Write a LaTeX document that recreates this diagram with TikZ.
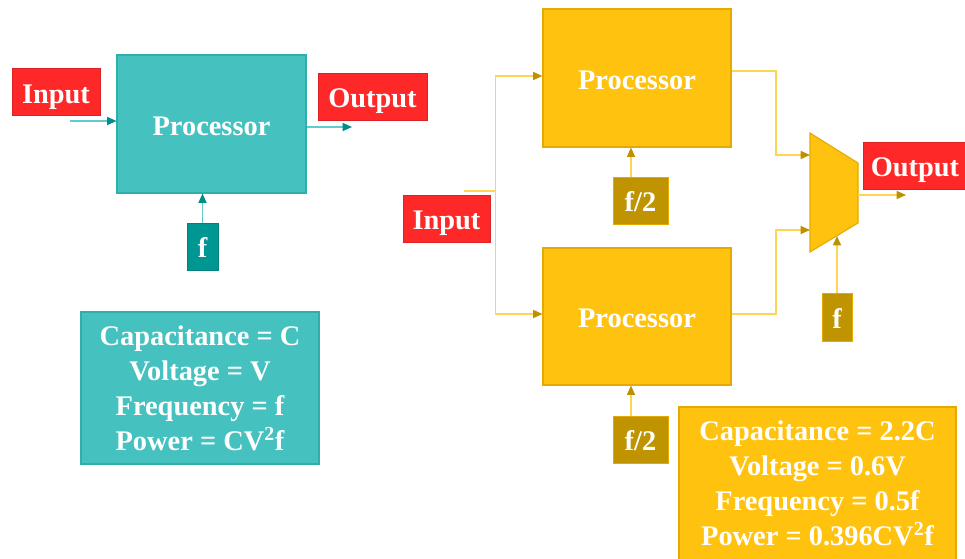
\documentclass[tikz,border=0pt]{standalone}
\usepackage{fontspec}
\setmainfont{Liberation Serif}
\usetikzlibrary{arrows.meta}
\definecolor{tealbox}{RGB}{69,193,192}
\definecolor{tealedge}{RGB}{45,175,172}
\definecolor{tealdark}{RGB}{0,150,146}
\definecolor{tealline}{RGB}{95,205,205}
\definecolor{tealtip}{RGB}{0,140,138}
\definecolor{goldbox}{RGB}{255,194,14}
\definecolor{goldedge}{RGB}{228,170,0}
\definecolor{golddark}{RGB}{192,148,0}
\definecolor{goldline}{RGB}{255,212,80}
\definecolor{goldtip}{RGB}{190,145,0}
\definecolor{redbox}{RGB}{255,40,40}
\begin{document}
\begin{tikzpicture}[x=0.75pt,y=-0.75pt,
  txt/.style={text=white,font=\bfseries\fontsize{21.3}{26.3}\selectfont,inner sep=0pt,align=center},
  one/.style={text height=20.5pt,text depth=4pt},
  boxsz/.style 2 args={minimum width=#1*0.75pt,minimum height=#2*0.75pt},
  lbl/.style={txt,one,fill=redbox,draw=redbox!85!black,line width=0.5pt},
  tproc/.style={txt,fill=tealbox,draw=tealedge,line width=0.8pt},
  tclk/.style={txt,one,fill=tealdark,draw=tealdark!85!black,line width=0.5pt},
  gproc/.style={txt,fill=goldbox,draw=goldedge,line width=0.8pt},
  gclk/.style={txt,one,fill=golddark,draw=goldedge,line width=0.6pt},
  tarr/.style={draw=tealline,line width=1.1pt,-{Triangle[length=7pt,width=6pt,color=tealtip]}},
  garr/.style={draw=goldline,line width=1.1pt,-{Triangle[length=7pt,width=6pt,color=goldtip]}},
  gline/.style={draw=goldline,line width=1.1pt}]
\useasboundingbox (0,0) rectangle (965,558);
% ---------- left ----------
\node[tproc,one,boxsz={189}{138}] (procL) at (211.5,124) {Processor};
\node[lbl,boxsz={88}{47}] (inL) at (56,92) {Input};
\node[lbl,boxsz={109}{47}] (outL) at (372.5,96.5) {Output};
\node[tclk,boxsz={31}{47}] (fL) at (202.5,246.5) {f};
\node[tproc,boxsz={238}{152}] (capL) at (200,388) {Capacitance = C\\Voltage = V\\Frequency = f\\Power = CV\textsuperscript{2}f};
\coordinate (ainL) at (70,121);
\coordinate (aoutL) at (352,127);
\draw[tarr] (ainL) -- (ainL -| procL.west);
\draw[tarr] (aoutL -| procL.east) -- (aoutL);
\draw[tarr] (fL.north) -- (fL.north |- procL.south);
% ---------- right ----------
\node[gproc,one,boxsz={188}{138}] (procT) at (637,78) {Processor};
\node[gproc,one,boxsz={188}{137}] (procB) at (637,316.5) {Processor};
\node[lbl,boxsz={87}{47}] (inR) at (446.5,218.5) {Input};
\node[gclk,boxsz={55}{47}] (f2T) at (640.5,200.5) {f/2};
\node[gclk,boxsz={55}{47}] (f2B) at (640.5,439.5) {f/2};
\node[gclk,boxsz={30}{48}] (fR) at (837,317) {f};
\node[lbl,boxsz={104}{47}] (outR) at (915,165.5) {Output};
\node[gproc,boxsz={277}{153}] (capR) at (817.5,483.5) {Capacitance = 2.2C\\Voltage = 0.6V\\Frequency = 0.5f\\Power = 0.396CV\textsuperscript{2}f};
% mux
\coordinate (mTL) at (810,133);
\coordinate (mTR) at (858,163);
\coordinate (mBR) at (858,223);
\coordinate (mBL) at (810,252);
\draw[fill=goldbox,draw=goldedge,line width=0.8pt] (mTL) -- (mTR) -- (mBR) -- (mBL) -- cycle;
% input split
\coordinate (s0) at (464,191);
\coordinate (s1) at (495.5,191);
\coordinate (jT) at (495.5,76);
\coordinate (jB) at (495.5,314);
\draw[gline] (s0) -- (s1);
\draw[garr] (s1) -- (jT) -- (jT -| procT.west);
\draw[garr] (s1) -- (jB) -- (jB -| procB.west);
% clocks
\draw[garr] (f2T.north -| 631,0) -- (631,0 |- procT.south);
\draw[garr] (f2B.north -| 631,0) -- (631,0 |- procB.south);
\coordinate (mf) at (837,236);
\draw[garr] (fR.north) -- (mf);
% outputs to mux
\coordinate (t1) at (776,71);
\coordinate (t2) at (776,155);
\coordinate (b1) at (776,314);
\coordinate (b2) at (776,230);
\draw[garr] (t1 -| procT.east) -- (t1) -- (t2) -- (t2 -| mTL);
\draw[garr] (b1 -| procB.east) -- (b1) -- (b2) -- (b2 -| mBL);
\coordinate (mo) at (858,195);
\coordinate (mo2) at (906,195);
\draw[garr] (mo) -- (mo2);
\end{tikzpicture}
\end{document}
